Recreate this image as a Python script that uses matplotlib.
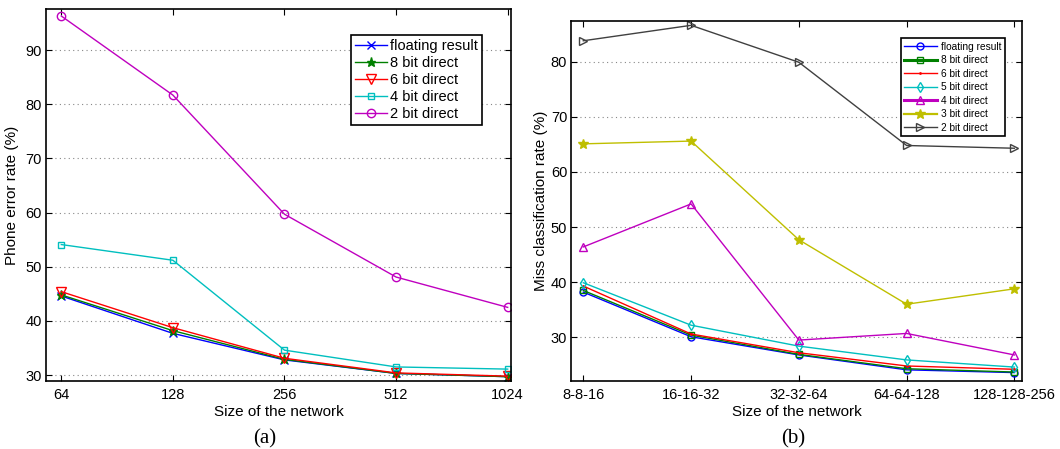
import matplotlib
matplotlib.use("Agg")
import matplotlib.pyplot as plt
from matplotlib.lines import Line2D

plt.rcParams['font.family'] = ['Liberation Sans', 'DejaVu Sans']

# ---- panel (a) data ----
a_cats = ['64', '128', '256', '512', '1024']
a_float = [44.6, 37.7, 32.8, 30.3, 29.7]
a_8bit = [44.8, 38.2, 32.9, 30.3, 29.7]
a_6bit = [45.4, 38.75, 33.1, 30.4, 29.8]
a_4bit = [54.1, 51.2, 34.6, 31.5, 31.1]
a_2bit = [96.3, 81.7, 59.7, 48.1, 42.5]
a_yticks = [30, 40, 50, 60, 70, 80, 90]

# ---- panel (b) data ----
b_cats = ['8-8-16', '16-16-32', '32-32-64', '64-64-128', '128-128-256']
b_float = [38.2, 30.1, 26.8, 24.1, 23.6]
b_8bit = [38.5, 30.4, 26.9, 24.3, 23.7]
b_6bit = [39.3, 30.6, 27.2, 24.8, 24.2]
b_5bit = [39.9, 32.2, 28.4, 25.9, 24.6]
b_4bit = [46.4, 54.2, 29.5, 30.7, 26.8]
b_3bit = [65.1, 65.6, 47.7, 36.0, 38.8]
b_2bit = [83.8, 86.6, 79.9, 64.8, 64.3]
b_yticks = [30, 40, 50, 60, 70, 80]

fig = plt.figure(figsize=(10.6, 4.49), dpi=100)

def style(ax):
    ax.tick_params(direction='in', top=True, right=True, length=4, width=0.8,
                   labelsize=10.5)
    ax.tick_params(axis='y', pad=3)
    ax.tick_params(axis='x', pad=5)
    for s in ax.spines.values():
        s.set_linewidth(1.2)
    ax.yaxis.grid(True, linestyle=(0, (1, 3)), color='#888888', linewidth=0.8)
    ax.set_axisbelow(True)

# ---------- (a) ----------
ax1 = fig.add_axes([0.0434, 0.1514, 0.4387, 0.8286])
x = range(len(a_cats))
ms = 5.5
ax1.plot(x, a_float, color='blue', marker='x', ms=ms, mfc='none', lw=1, label='floating result')
ax1.plot(x, a_8bit, color='green', marker='*', ms=ms+1, lw=1, label='8 bit direct')
ax1.plot(x, a_6bit, color='red', marker='v', ms=ms+1, mfc='none', lw=1, label='6 bit direct')
ax1.plot(x, a_4bit, color='#00bfbf', marker='s', ms=ms-1, mfc='none', lw=1, label='4 bit direct')
ax1.plot(x, a_2bit, color='#bf00bf', marker='o', ms=ms+0.5, mfc='none', lw=1, label='2 bit direct')
ax1.set_xlim(-0.137, 4.03)
ax1.set_ylim(28.9, 97.6)
ax1.set_xticks(list(x))
ax1.set_xticklabels(a_cats)
ax1.set_yticks(a_yticks)
style(ax1)
ax1.set_xlabel('Size of the network', fontsize=11, labelpad=2)
ax1.set_ylabel('Phone error rate (%)', fontsize=11, labelpad=5)
leg1 = ax1.legend(loc='upper left', bbox_to_anchor=(0.655, 0.93), fontsize=10.5,
                  frameon=True, fancybox=False, edgecolor='black', framealpha=1,
                  handlelength=2.2, handletextpad=0.2, borderpad=0.3, labelspacing=0.2,
                  borderaxespad=0)
leg1.get_frame().set_linewidth(1.2)
fig.text(0.25, 0.022, '(a)', fontsize=15, family='Liberation Serif', ha='center', va='center')

# ---------- (b) ----------
ax2 = fig.add_axes([0.539, 0.1514, 0.4255, 0.8025])
x = range(len(b_cats))
ax2.plot(x, b_float, color='blue', marker='o', ms=5, mfc='none', lw=1)
ax2.plot(x, b_8bit, color='green', marker='s', ms=4.5, mfc='none', lw=1)
ax2.plot(x, b_6bit, color='red', marker='.', ms=2, lw=1)
ax2.plot(x, b_5bit, color='#00bfbf', marker='d', ms=5.5, mfc='none', lw=1)
ax2.plot(x, b_4bit, color='#bf00bf', marker='^', ms=6, mfc='none', lw=1)
ax2.plot(x, b_3bit, color='#bfbf00', marker='*', ms=7, lw=1)
ax2.plot(x, b_2bit, color='#404040', marker='>', ms=6, mfc='none', lw=1)
ax2.set_xlim(-0.111, 4.074)
ax2.set_ylim(22.07, 87.44)
ax2.set_xticks(list(x))
ax2.set_xticklabels(b_cats)
ax2.set_yticks(b_yticks)
style(ax2)
ax2.set_xlabel('Size of the network', fontsize=11, labelpad=2)
ax2.set_ylabel('Miss classification rate (%)', fontsize=11, labelpad=2)
handles = [
    Line2D([], [], color='blue', marker='o', ms=5, mfc='none', lw=1),
    Line2D([], [], color='green', marker='s', ms=4.5, mfc='none', lw=2.2),
    Line2D([], [], color='red', marker='.', ms=2, lw=1),
    Line2D([], [], color='#00bfbf', marker='d', ms=5.5, mfc='none', lw=1),
    Line2D([], [], color='#bf00bf', marker='^', ms=6, mfc='none', lw=2.2),
    Line2D([], [], color='#bfbf00', marker='*', ms=7, lw=1.6),
    Line2D([], [], color='#404040', marker='>', ms=6, mfc='none', lw=1),
]
labels = ['floating result', '8 bit direct', '6 bit direct', '5 bit direct',
          '4 bit direct', '3 bit direct', '2 bit direct']
leg2 = ax2.legend(handles, labels, loc='upper left', bbox_to_anchor=(0.73, 0.952), fontsize=7.3,
                  frameon=True, fancybox=False, edgecolor='black', framealpha=1,
                  handlelength=3.2, handletextpad=0.4, borderpad=0.35, labelspacing=0.35,
                  borderaxespad=0)
leg2.get_frame().set_linewidth(1.2)
fig.text(0.748, 0.022, '(b)', fontsize=15, family='Liberation Serif', ha='center', va='center')

fig.savefig('out.png', dpi=100)
